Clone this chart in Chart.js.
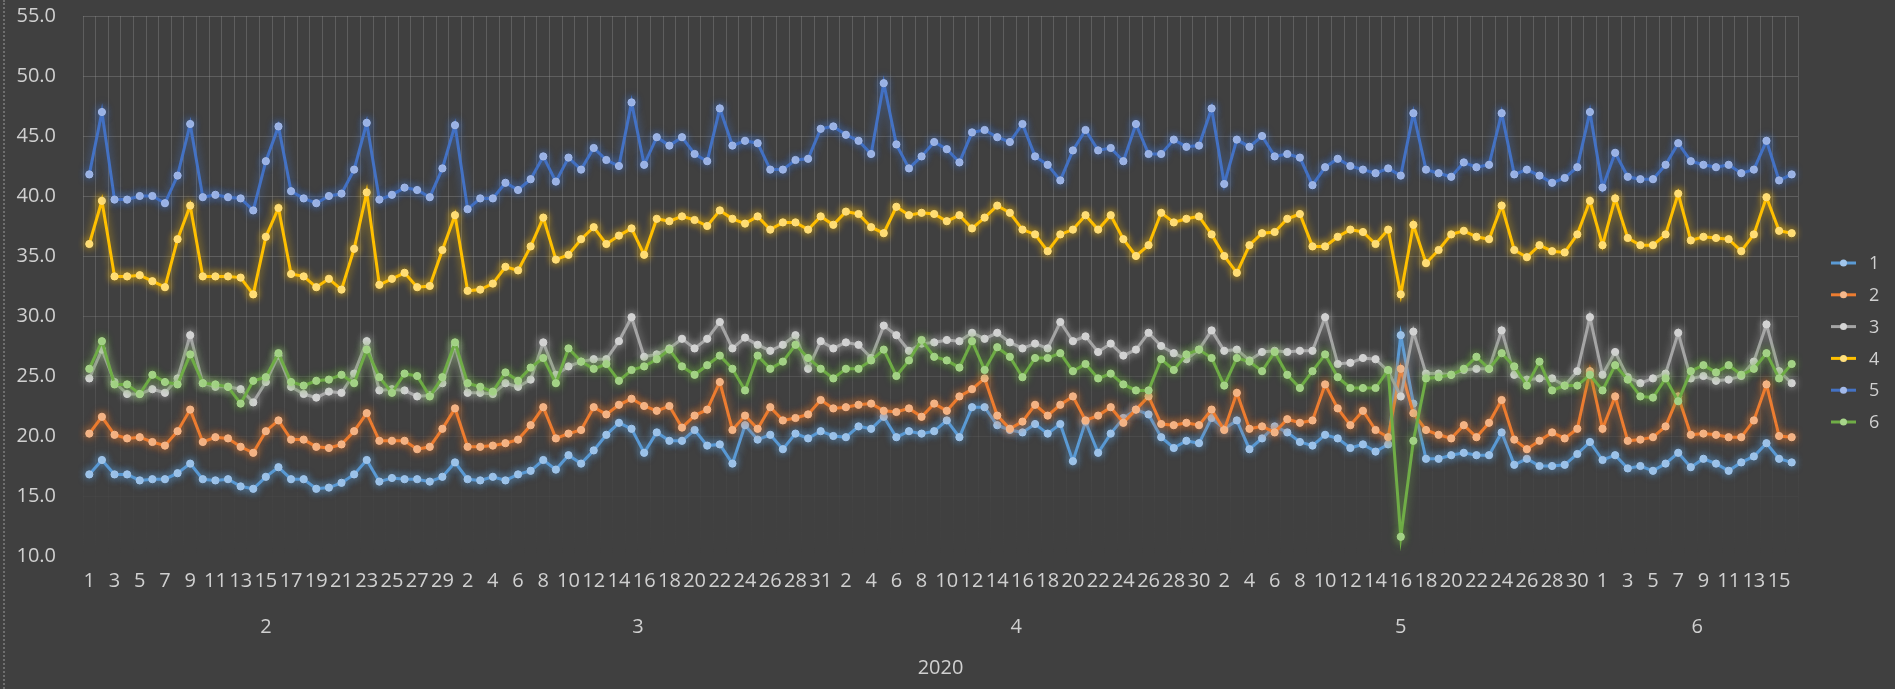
<!DOCTYPE html>
<html>
<head>
<meta charset="utf-8">
<script src="https://cdn.jsdelivr.net/npm/chart.js@4.4.1/dist/chart.umd.min.js"></script>
<style>
  html, body { margin: 0; padding: 0; background: #404040; }
  #wrap { position: relative; width: 1895px; height: 689px; }
  #edge { position: absolute; left: 3px; top: 0; height: 689px; border-left: 2px dotted #6e6e6e; }
  canvas { display: block; }
</style>
</head>
<body>
<div id="wrap"><canvas id="chart" width="1895" height="689"></canvas><div id="edge"></div></div>
<script>
// day of month for every point (Feb 1 .. Jun 16 2020, Mar 29 missing)
const days = [
  1,2,3,4,5,6,7,8,9,10,11,12,13,14,15,16,17,18,19,20,21,22,23,24,25,26,27,28,29,
  1,2,3,4,5,6,7,8,9,10,11,12,13,14,15,16,17,18,19,20,21,22,23,24,25,26,27,28,30,31,
  1,2,3,4,5,6,7,8,9,10,11,12,13,14,15,16,17,18,19,20,21,22,23,24,25,26,27,28,29,30,
  1,2,3,4,5,6,7,8,9,10,11,12,13,14,15,16,17,18,19,20,21,22,23,24,25,26,27,28,29,30,31,
  1,2,3,4,5,6,7,8,9,10,11,12,13,14,15,16
];
const monthLabels = ['2', '3', '4', '5', '6'];
const monthCounts = [29, 30, 30, 31, 16];
const yearLabel = '2020';
const seriesNames = ['1', '2', '3', '4', '5', '6'];

const s1 = [16.8,18.0,16.8,16.8,16.3,16.4,16.4,16.9,17.7,16.4,16.3,16.4,15.8,15.6,16.6,17.4,16.4,16.4,15.6,15.7,16.1,16.8,
  18.0,16.2,16.5,16.4,16.4,16.2,16.6,17.8,16.4,16.3,16.6,16.3,16.8,17.1,18.0,17.2,18.4,17.7,18.8,20.1,21.1,20.6,18.6,20.3,
  19.6,19.6,20.5,19.2,19.3,17.7,20.9,19.7,20.1,18.9,20.2,19.8,20.4,20.0,19.9,20.8,20.6,21.6,19.9,20.4,20.2,20.4,21.3,19.9,
  22.4,22.4,20.9,20.5,20.3,21.0,20.2,21.0,17.9,21.2,18.6,20.2,21.5,22.2,21.8,19.9,19.0,19.6,19.4,21.5,20.6,21.3,18.9,19.8,
  20.8,20.3,19.5,19.2,20.1,19.8,19.0,19.3,18.7,19.3,28.4,22.7,18.1,18.1,18.4,18.6,18.4,18.4,20.3,17.6,18.1,17.5,17.5,
  17.6,18.5,19.5,18.0,18.4,17.3,17.5,17.1,17.7,18.6,17.4,18.1,17.7,17.1,17.8,18.3,19.4,18.1,17.8];
const s2 = [20.2,21.6,20.1,19.8,19.9,19.5,19.2,20.4,22.2,19.5,19.9,19.8,19.1,18.6,20.4,21.3,19.7,19.7,19.1,19.0,19.3,20.4,
  21.9,19.6,19.6,19.6,18.9,19.1,20.6,22.3,19.1,19.1,19.2,19.4,19.7,20.9,22.4,19.8,20.2,20.5,22.4,21.8,22.6,23.1,22.5,22.1,
  22.5,20.7,21.7,22.2,24.5,20.5,21.7,20.6,22.4,21.3,21.5,21.8,23.0,22.3,22.4,22.6,22.7,22.1,22.0,22.3,21.6,22.7,22.1,23.3,
  23.9,24.8,21.7,20.6,21.2,22.6,21.7,22.6,23.3,21.3,21.7,22.4,21.1,22.2,23.3,21.0,20.9,21.1,20.9,22.2,20.5,23.6,20.6,20.8,
  20.3,21.4,21.1,21.3,24.3,22.3,20.9,22.1,20.5,19.9,25.6,21.9,20.5,20.1,19.8,20.9,19.9,21.1,23.0,19.7,18.9,19.6,20.3,
  19.8,20.6,25.4,20.6,23.3,19.6,19.7,19.9,20.8,23.3,20.1,20.2,20.1,19.9,19.9,21.3,24.3,20.0,19.9];
const s3 = [24.8,27.2,24.5,23.5,23.5,23.9,23.6,24.8,28.4,24.4,24.1,24.1,23.9,22.8,24.5,26.7,24.1,23.5,23.2,23.7,23.6,25.2,
  27.9,23.8,23.9,23.8,23.3,23.4,24.4,27.5,23.6,23.6,23.5,24.4,24.1,24.7,27.8,25.1,25.8,26.2,26.4,26.4,27.9,29.9,26.6,26.8,
  27.3,28.1,27.3,28.1,29.5,27.3,28.2,27.6,27.1,27.6,28.4,25.6,27.9,27.3,27.8,27.6,26.5,29.2,28.4,27.1,27.7,27.8,28.0,27.9,
  28.6,28.1,28.6,27.8,27.3,27.7,27.3,29.5,27.9,28.3,27.0,27.7,26.7,27.2,28.6,27.5,26.9,26.4,27.2,28.8,27.1,27.2,26.3,27.0,
  27.1,27.0,27.1,27.1,29.9,26.0,26.1,26.5,26.4,25.4,23.3,28.7,25.2,25.2,25.1,25.5,25.6,25.6,28.8,25.1,24.7,24.8,24.8,
  24.2,25.4,29.9,25.1,27.0,24.9,24.4,24.8,25.2,28.6,24.8,25.0,24.6,24.7,25.0,26.2,29.3,25.4,24.4];
const s4 = [36.0,39.6,33.3,33.3,33.4,32.9,32.4,36.4,39.2,33.3,33.3,33.3,33.2,31.8,36.6,39.0,33.5,33.3,32.4,33.1,32.2,35.6,
  40.3,32.6,33.1,33.6,32.4,32.5,35.5,38.4,32.1,32.2,32.7,34.1,33.8,35.8,38.2,34.7,35.1,36.4,37.4,36.0,36.7,37.3,35.1,38.1,
  37.9,38.3,38.0,37.5,38.8,38.1,37.7,38.3,37.2,37.8,37.8,37.2,38.3,37.6,38.7,38.5,37.4,36.9,39.1,38.4,38.6,38.5,37.9,38.4,
  37.3,38.2,39.2,38.6,37.2,36.8,35.4,36.8,37.2,38.4,37.2,38.4,36.4,35.0,35.9,38.6,37.8,38.1,38.3,36.8,35.0,33.6,35.9,36.9,
  37.0,38.1,38.5,35.8,35.8,36.6,37.2,37.0,36.0,37.2,31.8,37.6,34.4,35.5,36.8,37.1,36.6,36.4,39.2,35.5,34.9,35.9,35.4,
  35.3,36.8,39.6,35.9,39.8,36.5,35.9,35.9,36.8,40.2,36.3,36.6,36.5,36.4,35.4,36.8,39.9,37.1,36.9];
const s5 = [41.8,47.0,39.7,39.7,40.0,40.0,39.4,41.7,46.0,39.9,40.1,39.9,39.8,38.8,42.9,45.8,40.4,39.8,39.4,40.0,40.2,42.2,
  46.1,39.7,40.1,40.7,40.5,39.9,42.3,45.9,38.9,39.8,39.8,41.1,40.5,41.4,43.3,41.2,43.2,42.2,44.0,43.0,42.5,47.8,42.6,44.9,
  44.2,44.9,43.5,42.9,47.3,44.2,44.6,44.4,42.2,42.2,43.0,43.1,45.6,45.8,45.1,44.6,43.5,49.4,44.3,42.3,43.3,44.5,43.9,42.8,
  45.3,45.5,44.9,44.5,46.0,43.3,42.6,41.3,43.8,45.5,43.8,44.0,42.9,46.0,43.5,43.5,44.7,44.1,44.2,47.3,41.0,44.7,44.1,45.0,
  43.3,43.5,43.2,40.9,42.4,43.1,42.5,42.2,41.9,42.3,41.7,46.9,42.2,41.9,41.6,42.8,42.4,42.6,46.9,41.8,42.2,41.7,41.1,
  41.5,42.4,47.0,40.7,43.6,41.6,41.4,41.4,42.6,44.4,42.9,42.6,42.4,42.6,41.9,42.2,44.6,41.3,41.8];
const s6 = [25.6,27.9,24.3,24.3,23.5,25.1,24.5,24.3,26.8,24.4,24.3,24.1,22.7,24.6,24.9,26.9,24.5,24.2,24.6,24.7,25.1,24.4,
  27.2,24.9,23.6,25.2,25.0,23.3,24.9,27.8,24.4,24.1,23.7,25.3,24.6,25.7,26.5,24.4,27.3,26.2,25.6,26.0,24.6,25.5,25.8,26.4,
  27.2,25.8,25.1,25.9,26.7,25.6,23.8,26.7,25.6,26.2,27.6,26.5,25.6,24.8,25.6,25.6,26.3,27.2,25.0,26.3,28.0,26.6,26.3,25.7,
  27.9,25.5,27.4,26.6,24.9,26.5,26.5,26.9,25.4,26.0,24.8,25.2,24.3,23.8,23.8,26.4,25.5,26.8,27.2,26.5,24.2,26.5,26.2,25.4,
  27.0,25.1,24.0,25.4,26.8,24.9,24.0,24.0,24.0,25.5,11.6,19.6,24.8,24.9,25.1,25.6,26.6,25.6,26.9,25.8,24.2,26.2,23.8,
  24.2,24.2,25.1,23.8,25.9,24.7,23.3,23.2,24.8,22.9,25.4,25.9,25.3,25.9,25.1,25.6,26.9,24.8,26.0];

const allSeries = [s1, s2, s3, s4, s5, s6];
const lineColors = ['#5B9BD5', '#ED7D31', '#A5A5A5', '#FFC000', '#4472C4', '#70AD47'];
const dotColors = ['#A2C6EB', '#F5B88C', '#D4D4D4', '#FFE07E', '#A3B9E8', '#A8D58B'];
const glowColors = ['rgba(91,155,213,0.75)', 'rgba(237,125,49,0.75)', 'rgba(190,190,190,0.7)',
  'rgba(255,192,0,0.75)', 'rgba(68,114,196,0.8)', 'rgba(112,173,71,0.75)'];

const textColor = '#D0D0D0';
const fontFamily = '"Open Sans", "DejaVu Sans", sans-serif';
const fontSize = 20;

// gridlines fade out toward the bottom of the plot
function gridAlpha(t) {
  if (t < 0.45) return 1;
  if (t > 0.95) return 0;
  return 1 - (t - 0.45) / 0.5;
}
function gridColor(t) {
  return 'rgba(140,140,140,' + (0.4 * gridAlpha(t)).toFixed(3) + ')';
}

const glow = {
  id: 'glow',
  beforeDatasetDraw(chart, args) {
    const ctx = chart.ctx;
    ctx.save();
    ctx.shadowColor = glowColors[args.index];
    ctx.shadowBlur = 9;
  },
  afterDatasetDraw(chart) {
    chart.ctx.restore();
  }
};

const groupLabels = {
  id: 'groupLabels',
  afterDraw(chart) {
    const ctx = chart.ctx;
    const x = chart.scales.x;
    ctx.save();
    ctx.fillStyle = textColor;
    ctx.font = fontSize + 'px ' + fontFamily;
    ctx.textAlign = 'center';
    ctx.textBaseline = 'middle';
    let start = 0;
    monthCounts.forEach((n, m) => {
      const c = (x.getPixelForValue(start) + x.getPixelForValue(start + n - 1)) / 2;
      ctx.fillText(monthLabels[m], c, 627);
      start += n;
    });
    const mid = (x.getPixelForValue(0) + x.getPixelForValue(days.length - 1)) / 2;
    ctx.fillText(yearLabel, mid, 668);
    ctx.restore();
  }
};

const sideLegend = {
  id: 'sideLegend',
  afterDraw(chart) {
    const ctx = chart.ctx;
    const x0 = chart.chartArea.right + 33;
    ctx.save();
    ctx.font = '18px ' + fontFamily;
    ctx.textBaseline = 'middle';
    seriesNames.forEach((name, i) => {
      const y = 263 + i * 31.8;
      ctx.strokeStyle = lineColors[i];
      ctx.lineWidth = 3;
      ctx.beginPath();
      ctx.moveTo(x0, y);
      ctx.lineTo(x0 + 25, y);
      ctx.stroke();
      ctx.fillStyle = dotColors[i];
      ctx.beginPath();
      ctx.arc(x0 + 12.5, y, 3.5, 0, Math.PI * 2);
      ctx.fill();
      ctx.fillStyle = textColor;
      ctx.fillText(name, x0 + 38, y + 1);
    });
    ctx.restore();
  }
};

new Chart(document.getElementById('chart'), {
  type: 'line',
  data: {
    labels: days.map(String),
    datasets: allSeries.map((data, i) => ({
      label: seriesNames[i],
      data: data,
      borderColor: lineColors[i],
      backgroundColor: dotColors[i],
      pointBackgroundColor: dotColors[i],
      pointBorderColor: dotColors[i],
      pointBorderWidth: 1,
      pointRadius: 3.6,
      borderWidth: 3,
      tension: 0,
      fill: false,
      order: allSeries.length - i
    }))
  },
  options: {
    responsive: false,
    animation: false,
    devicePixelRatio: 1,
    layout: { padding: { top: 16, right: 97, bottom: 0, left: 0 } },
    plugins: {
      legend: { display: false },
      tooltip: { enabled: false }
    },
    scales: {
      x: {
        type: 'category',
        offset: true,
        grid: {
          offset: true,
          drawTicks: false,
          color: (c) => {
            const a = c.chart.chartArea;
            if (!a) return gridColor(0);
            const g = c.chart.ctx.createLinearGradient(0, a.top, 0, a.bottom);
            for (let k = 0; k <= 10; k++) g.addColorStop(k / 10, gridColor(k / 10));
            return g;
          },
          lineWidth: 1
        },
        border: { display: false },
        ticks: {
          autoSkip: false,
          maxRotation: 0,
          minRotation: 0,
          padding: 13,
          color: textColor,
          font: { family: fontFamily, size: fontSize },
          callback: (v, i) => (i % 2 === 0 ? String(days[i]) : '')
        },
        afterFit: (s) => { s.height = 133; s.paddingLeft = 0; s.paddingRight = 0; }
      },
      y: {
        min: 10,
        max: 55,
        grid: {
          drawTicks: false,
          color: (c) => gridColor((55 - c.tick.value) / 45),
          lineWidth: 1
        },
        border: { display: false },
        ticks: {
          stepSize: 5,
          padding: 27,
          color: textColor,
          font: { family: fontFamily, size: fontSize },
          callback: (v) => Number(v).toFixed(1)
        },
        afterFit: (s) => { s.width = 83; s.paddingTop = 0; s.paddingBottom = 0; }
      }
    }
  },
  plugins: [glow, groupLabels, sideLegend]
});
</script>
</body>
</html>
